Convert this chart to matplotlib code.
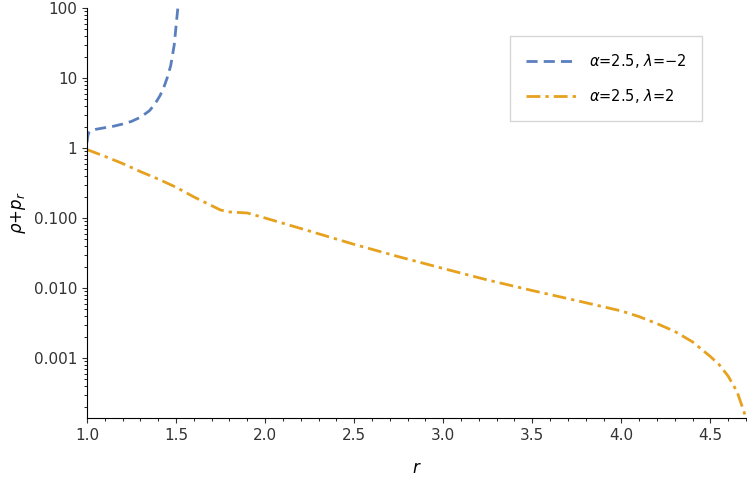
import matplotlib
matplotlib.use("Agg")
import matplotlib.pyplot as plt
from matplotlib.ticker import FixedLocator, FixedFormatter, LogLocator, NullFormatter, MultipleLocator

r_neg = [1.0, 1.005, 1.01, 1.02, 1.05, 1.1, 1.15, 1.2, 1.25, 1.3, 1.35, 1.38, 1.41, 1.43, 1.45, 1.47, 1.49, 1.5, 1.51]
v_neg = [1.2, 1.5, 1.65, 1.75, 1.85, 1.95, 2.05, 2.2, 2.4, 2.75, 3.4, 4.2, 5.6, 7.2, 10.0, 15.0, 30.0, 55.0, 100.0]

r_pos = [1.0, 1.1, 1.2, 1.3, 1.4, 1.5, 1.6, 1.7, 1.75, 1.8, 1.9, 2.0, 2.25, 2.5, 2.75, 3.0, 3.25, 3.5, 3.75, 4.0, 4.1, 4.2, 4.3, 4.4, 4.5, 4.55, 4.6, 4.65, 4.7]
v_pos = [0.95, 0.76, 0.6, 0.46, 0.36, 0.275, 0.2, 0.15, 0.13, 0.122, 0.118, 0.1, 0.065, 0.042, 0.028, 0.019, 0.013, 0.0092, 0.0066, 0.0047, 0.0039, 0.0031, 0.0024, 0.0017, 0.00105, 0.0008, 0.00055, 0.00033, 0.00014]

yticks = [100, 10, 1, 0.1, 0.01, 0.001]
ylabels = ["100", "10", "1", "0.100", "0.010", "0.001"]

fig = plt.figure(figsize=(7.47, 4.84), dpi=100)
ax = fig.add_axes([87/747, 1-418/484, (746-87)/747, (418-8)/484])
ax.plot(r_neg, v_neg, color="#5a7fbf", ls=(0, (4, 2.2)), lw=2, label=r"$\alpha$=2.5, $\lambda$=−2")
ax.plot(r_pos, v_pos, color="#e6a11f", ls=(0, (5, 1.8, 1.2, 1.8)), lw=2, label=r"$\alpha$=2.5, $\lambda$=2")
ax.set_yscale("log")
ax.set_xlim(1.0, 4.7)
ax.set_ylim(10**-3.857, 100)
ax.yaxis.set_major_locator(FixedLocator(yticks))
ax.yaxis.set_major_formatter(FixedFormatter(ylabels))
ax.yaxis.set_minor_locator(LogLocator(base=10, subs=range(2, 10)))
ax.yaxis.set_minor_formatter(NullFormatter())
ax.xaxis.set_major_locator(MultipleLocator(0.5))
ax.xaxis.set_minor_locator(MultipleLocator(0.1))
ax.xaxis.set_major_formatter(plt.FuncFormatter(lambda v, p: f"{v:.1f}"))
for s in ["top", "right"]:
    ax.spines[s].set_visible(False)
ax.tick_params(labelsize=11, colors="#333333")
ax.set_xlabel(r"$r$", fontsize=12, labelpad=12)
ax.set_ylabel(r"$\rho$+$p_r$", fontsize=12)
leg = ax.legend(loc="upper right", bbox_to_anchor=(0.945, 0.95), fontsize=10.5, handlelength=3.5,
                borderpad=1.1, labelspacing=1.2, fancybox=False, edgecolor="#cccccc")
fig.savefig("out.png", dpi=100)
